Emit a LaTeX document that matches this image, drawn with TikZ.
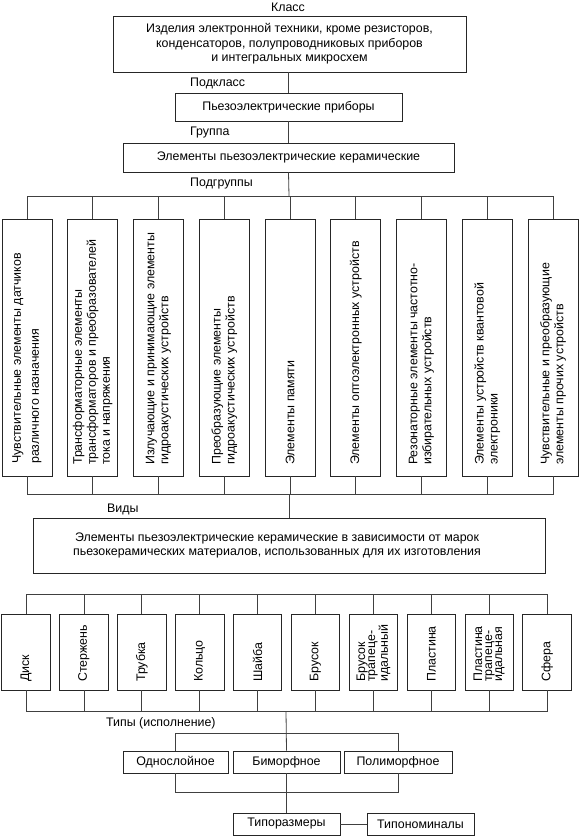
\documentclass[tikz,border=0pt]{standalone}
\usepackage{fontspec}
\setmainfont{Liberation Sans}
\begin{document}
\begin{tikzpicture}[x=1pt,y=-1pt,
  box/.style={draw=black!85, line width=0.8pt, inner sep=0pt, align=center, font=\fontsize{12.4}{14.5}\selectfont},
  lbl/.style={inner sep=0pt, anchor=west, font=\fontsize{12.4}{14.5}\selectfont},
  vtxt/.style={rotate=90, anchor=west, align=left, inner sep=0pt, font=\fontsize{12.4}{14}\selectfont},
  ttxt/.style={rotate=90, anchor=west, align=left, inner sep=0pt, font=\fontsize{12.4}{10}\selectfont},
  conn/.style={draw=black!75, line width=0.8pt}]
\useasboundingbox (0,0) rectangle (580,837);

% labels
\node[inner sep=0pt, font=\fontsize{12.4}{14.5}\selectfont] (lk) at (288,7) {Класс};
\node[lbl] (lpk) at (190,83) {Подкласс};
\node[lbl] (lgr) at (190,133) {Группа};
\node[lbl] (lpg) at (190,184) {Подгруппы};
\node[lbl] (lvid) at (107,509) {Виды};
\node[lbl] (ltyp) at (106,723) {Типы (исполнение)};

% top boxes
\node[box, minimum width=353, minimum height=56] (cls) at (289.5,44)
  {Изделия электронной техники, кроме резисторов,\\конденсаторов, полупроводниковых приборов\\и интегральных микросхем};
\node[box, minimum width=227, minimum height=28] (sub) at (288.5,107) {Пьезоэлектрические приборы};
\node[box, minimum width=331, minimum height=29] (grp) at (288.5,157.5) {Элементы пьезоэлектрические керамические};

% subgroup boxes
\foreach \i in {1,...,9}
  \node[box, minimum width=50, minimum height=257] (s\i) at ({27+65.75*(\i-1)},347.5) {};
\node[vtxt, font=\fontsize{12.4}{18}\selectfont] (st1) at (27,464) {Чувствительные элементы датчиков\\различного назначения};
\foreach \i/\t in {
  2/{Трансформаторные элементы\\трансформаторов и преобразователей\\тока и напряжения},
  3/{Излучающие и принимающие элементы\\гидроакустических устройств},
  4/{Преобразующие элементы\\гидроакустических устройств},
  5/{Элементы памяти},
  6/{Элементы оптоэлектронных устройств},
  7/{Резонаторные элементы частотно-\\избирательных устройств},
  8/{Элементы устройств квантовой\\электроники},
  9/{Чувствительные и преобразующие\\элементы прочих устройств}}
  \node[vtxt] (st\i) at ({27+65.75*(\i-1)},465) {\t};

% Виды box
\node[box, minimum width=512, minimum height=55] (vid) at (289,545.5) {};
\node[inner sep=0pt, align=center, font=\fontsize{12.4}{14.5}\selectfont] (vidt) at (277,545.5)
  {Элементы пьезоэлектрические керамические в зависимости от марок\\пьезокерамических материалов, использованных для их изготовления};

% type boxes
\foreach \i in {1,...,10}
  \node[box, minimum width=48.5, minimum height=76] (t\i) at ({26+57.9*(\i-1)},652) {};
\foreach \i/\t in {1/{Диск},2/{Стержень},3/{Трубка},4/{Кольцо},5/{Шайба},6/{Брусок},
  7/{Брусок\\трапеце-\\идальный},8/{Пластина},9/{Пластина\\трапеце-\\идальная},10/{Сфера}}
  \node[ttxt] (tt\i) at ({26+57.9*(\i-1)},682) {\t};

% execution boxes
\node[box, minimum width=105, minimum height=22] (odn) at (175.5,762) {Однослойное};
\node[box, minimum width=107, minimum height=22] (bim) at (286.5,762) {Биморфное};
\node[box, minimum width=108, minimum height=22] (pol) at (398,762) {Полиморфное};
\node[box, minimum width=107, minimum height=22] (tr) at (286.5,824) {Типоразмеры};
\node[box, minimum width=107, minimum height=22] (tn) at (420.5,824) {Типономиналы};

% bus coordinates
\coordinate (busA) at (289,196);
\coordinate (busB) at (289,494);
\coordinate (busC) at (286,594);
\coordinate (busD) at (286,711);
\coordinate (busE) at (286,733);
\coordinate (busF) at (286,792);

% connectors
\draw[conn] (cls.south -| sub.north) -- (sub.north);
\draw[conn] (sub.south) -- (grp.north);
\draw[conn] (grp.south) -- (busA);
\foreach \i in {1,...,9} {
  \draw[conn] (s\i.north) |- (busA);
  \draw[conn] (s\i.south) |- (busB);
}
\draw[conn] (busB) -- (busB |- vid.north);
\foreach \i in {1,...,10} {
  \draw[conn] (t\i.north) |- (busC);
  \draw[conn] (t\i.south) |- (busD);
}
\draw[conn] (busD) -- (bim.north);
\draw[conn] (odn.north) |- (busE);
\draw[conn] (pol.north) |- (busE);
\draw[conn] (odn.south) |- (busF);
\draw[conn] (pol.south) |- (busF);
\draw[conn] (bim.south) -- (tr.north);
\draw[conn] (tr.east) -- (tn.west);
\end{tikzpicture}
\end{document}
